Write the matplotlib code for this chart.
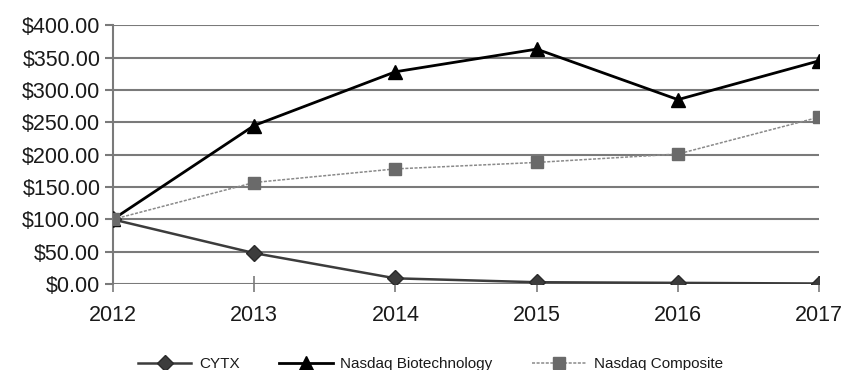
import matplotlib.pyplot as plt

YEARS = [2012, 2013, 2014, 2015, 2016, 2017]
CYTX = [100, 48, 9, 3, 2, 1]
NASDAQ_BIOTECH = [100, 245, 328, 363, 285, 345]
NASDAQ_COMPOSITE = [100, 157, 178, 188, 201, 258]
Y_TICKS = [0, 50, 100, 150, 200, 250, 300, 350, 400]

GRID = "#7a7a7a"
INK = "#1a1a1a"

plt.rcParams["font.family"] = ["Liberation Sans", "DejaVu Sans"]

fig = plt.figure(figsize=(8.42, 3.7), dpi=100, facecolor="white")
ax = fig.add_axes([0.134, 0.232, 0.839, 0.700])

ax.plot(YEARS, CYTX, color="#3c3c3c", linewidth=1.8, marker="D",
        markersize=8, markerfacecolor="#3c3c3c", markeredgecolor="#2a2a2a",
        label="CYTX", zorder=3)
ax.plot(YEARS, NASDAQ_BIOTECH, color="#000000", linewidth=2.0, marker="^",
        markersize=10, label="Nasdaq Biotechnology", zorder=4)
ax.plot(YEARS, NASDAQ_COMPOSITE, color="#8a8a8a", linewidth=1.1,
        linestyle=(0, (2, 1)), marker="s", markersize=9,
        markerfacecolor="#6a6a6a", markeredgecolor="#6a6a6a",
        label="Nasdaq Composite", zorder=5)

ax.set_xlim(YEARS[0], YEARS[-1])
ax.set_ylim(0, 400)
ax.set_yticks(Y_TICKS)
ax.set_yticklabels([f"${v:.2f}" for v in Y_TICKS])
ax.set_xticks(YEARS)
ax.set_xticklabels([str(y) for y in YEARS])

ax.grid(axis="y", color=GRID, linewidth=1.5)
ax.set_axisbelow(True)
for side in ["top", "right", "bottom"]:
  ax.spines[side].set_visible(False)
ax.spines["left"].set_color(GRID)
ax.spines["left"].set_linewidth(1.5)

ax.tick_params(axis="y", length=6, width=1.5, color=GRID, labelsize=15.5,
               labelcolor=INK, pad=3)
ax.tick_params(axis="x", direction="inout", length=12, width=1.2, color=GRID,
               labelsize=15.5, labelcolor=INK, pad=9)

fig.legend(loc="center", bbox_to_anchor=(0.511, 0.016), ncol=3, frameon=False,
           fontsize=11, handlelength=3.5, columnspacing=2.6, handletextpad=0.5,
           labelcolor=INK)

fig.savefig("out.png", dpi=100, facecolor="white")
